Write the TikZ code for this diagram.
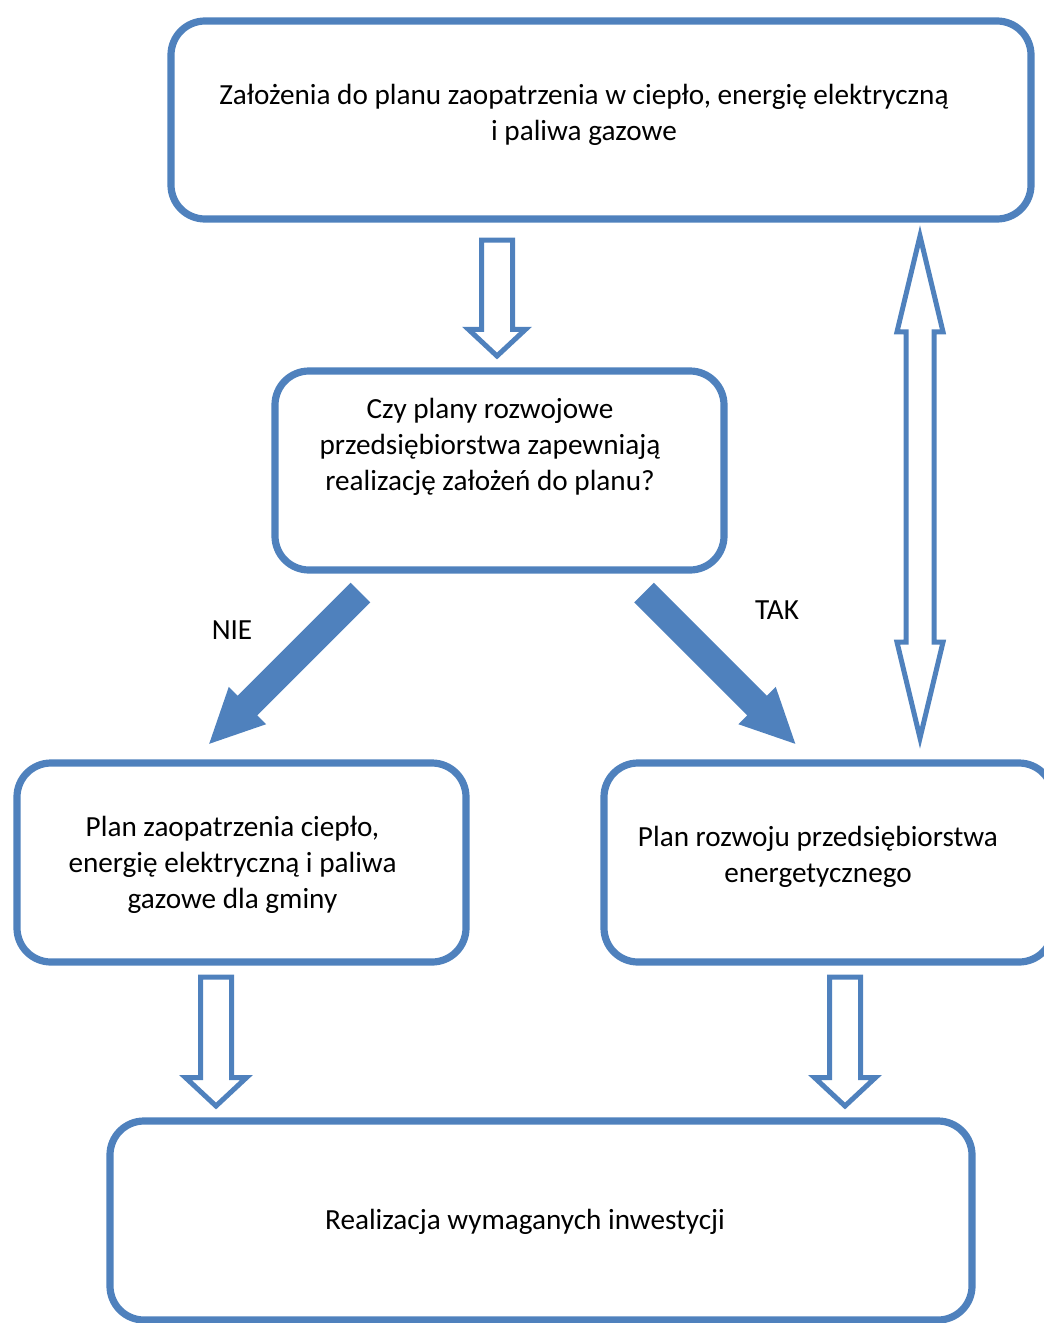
\documentclass[tikz,border=0pt]{standalone}
\usepackage{fontspec}
\setmainfont{Carlito}
\usepackage{tikz}
\usetikzlibrary{shapes,arrows,positioning,calc}
\definecolor{officeblue}{RGB}{79, 129, 189}

\begin{document}
\begin{tikzpicture}[
    x=0.5pt, y=-0.5pt,
    ramka/.style={rectangle, rounded corners=17pt, draw=officeblue, line width=3.6pt, outer sep=0pt, inner sep=0pt},
    tekst/.style={align=center, font=\fontsize{14.6}{18}\selectfont, inner sep=0pt},
    pusta/.style={single arrow, draw=officeblue, fill=white, line width=2.5pt, inner xsep=0pt, inner ysep=6.5pt, outer sep=0pt, single arrow head extend=6.5pt, single arrow tip angle=94},
    pelna/.style={single arrow, fill=officeblue, inner xsep=0pt, inner ysep=6.75pt, outer sep=0pt, single arrow head extend=6.25pt, single arrow tip angle=52, minimum height=107pt},
    podwojna/.style={double arrow, draw=officeblue, fill=white, line width=2.5pt, inner xsep=0pt, inner ysep=5.75pt, outer sep=0pt, double arrow head extend=4.5pt, double arrow tip angle=27, minimum height=251pt}
]
\useasboundingbox (0,0) rectangle (1044,1323);

% Boxes
\node[ramka, minimum width=430pt, minimum height=99pt] (zalozenia) at (601,120) {};
\node[ramka, minimum width=224.5pt, minimum height=99.5pt] (pytanie) at (499.5,470.5) {};
\node[ramka, minimum width=224.5pt, minimum height=99.5pt] (plan_gminy) at (241.5,862.5) {};
\node[ramka, minimum width=224.5pt, minimum height=99.5pt] (plan_rozwoju) at (828.5,862.5) {};
\node[ramka, minimum width=431pt, minimum height=99.5pt] (realizacja) at (541,1220.5) {};

% Box texts
\node[tekst] (zalozenia_t) at ([shift={(-17,-5)}]zalozenia.center) {Założenia do planu zaopatrzenia w ciepło, energię elektryczną\\i paliwa gazowe};
\node[tekst] (pytanie_t) at ([shift={(-9.5,-23.5)}]pytanie.center) {Czy plany rozwojowe\\przedsiębiorstwa zapewniają\\realizację założeń do planu?};
\node[tekst] (plan_gminy_t) at ([shift={(-9,2.5)}]plan_gminy.center) {Plan zaopatrzenia ciepło,\\energię elektryczną i paliwa\\gazowe dla gminy};
\node[tekst] (plan_rozwoju_t) at ([shift={(-10.5,-5.5)}]plan_rozwoju.center) {Plan rozwoju przedsiębiorstwa\\energetycznego};
\node[tekst] (realizacja_t) at ([shift={(-16,1.5)}]realizacja.center) {Realizacja wymaganych inwestycji};

% Hollow arrows
\node[pusta, minimum height=58pt, rotate=-90, anchor=tail] (strzalka_gora) at (497,240) {};
\node[pusta, minimum height=64.5pt, single arrow head extend=7.5pt, rotate=-90, anchor=tail] (strzalka_lewa) at (216,977) {};
\node[pusta, minimum height=64.5pt, single arrow head extend=7.5pt, rotate=-90, anchor=tail] (strzalka_prawa) at (845,977) {};
\node[podwojna, rotate=90] (strzalka_podwojna) at (920,487) {};

% Decision arrows
\node[pelna, rotate=225, anchor=tail] (nie_strzalka) at (360.5,592.5) {};
\node[pelna, rotate=-45, anchor=tail] (tak_strzalka) at (644,592.5) {};
\node[tekst] (nie) at (232,630) {NIE};
\node[tekst] (tak) at (777,610) {TAK};

\end{tikzpicture}
\end{document}
